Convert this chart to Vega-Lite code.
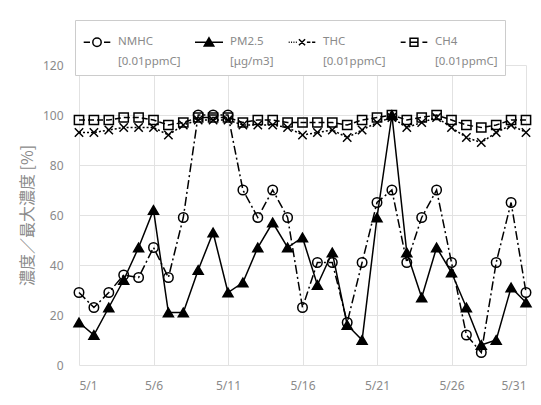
{
  "$schema": "https://vega.github.io/schema/vega-lite/v6.json",
  "width": 447,
  "height": 300,
  "autosize": {"type": "none"},
  "padding": {"left": 79, "top": 65, "right": 15, "bottom": 40},
  "background": "white",
  "config": {
    "font": "Noto Sans",
    "view": {"stroke": null},
    "style": {"guide-label": {"lineHeight": 20}},
    "axis": {
      "gridColor": "#e2e2e2",
      "gridWidth": 1,
      "domain": false,
      "ticks": false,
      "labelColor": "#8a8a8a",
      "labelFont": "Noto Sans",
      "labelFontSize": 12
    },
    "line": {"color": "black", "strokeWidth": 1.5},
    "point": {"stroke": "black", "strokeWidth": 1.5, "size": 90, "opacity": 1}
  },
  "data": {
    "values": [
      {"day": 1, "series": "NMHC", "value": 29}, {"day": 2, "series": "NMHC", "value": 23},
      {"day": 3, "series": "NMHC", "value": 29}, {"day": 4, "series": "NMHC", "value": 36},
      {"day": 5, "series": "NMHC", "value": 35}, {"day": 6, "series": "NMHC", "value": 47},
      {"day": 7, "series": "NMHC", "value": 35}, {"day": 8, "series": "NMHC", "value": 59},
      {"day": 9, "series": "NMHC", "value": 100}, {"day": 10, "series": "NMHC", "value": 100},
      {"day": 11, "series": "NMHC", "value": 100}, {"day": 12, "series": "NMHC", "value": 70},
      {"day": 13, "series": "NMHC", "value": 59}, {"day": 14, "series": "NMHC", "value": 70},
      {"day": 15, "series": "NMHC", "value": 59}, {"day": 16, "series": "NMHC", "value": 23},
      {"day": 17, "series": "NMHC", "value": 41}, {"day": 18, "series": "NMHC", "value": 41},
      {"day": 19, "series": "NMHC", "value": 17}, {"day": 20, "series": "NMHC", "value": 41},
      {"day": 21, "series": "NMHC", "value": 65}, {"day": 22, "series": "NMHC", "value": 70},
      {"day": 23, "series": "NMHC", "value": 41}, {"day": 24, "series": "NMHC", "value": 59},
      {"day": 25, "series": "NMHC", "value": 70}, {"day": 26, "series": "NMHC", "value": 41},
      {"day": 27, "series": "NMHC", "value": 12}, {"day": 28, "series": "NMHC", "value": 5},
      {"day": 29, "series": "NMHC", "value": 41}, {"day": 30, "series": "NMHC", "value": 65},
      {"day": 31, "series": "NMHC", "value": 29},

      {"day": 1, "series": "PM2.5", "value": 17}, {"day": 2, "series": "PM2.5", "value": 12},
      {"day": 3, "series": "PM2.5", "value": 23}, {"day": 4, "series": "PM2.5", "value": 34},
      {"day": 5, "series": "PM2.5", "value": 47}, {"day": 6, "series": "PM2.5", "value": 62},
      {"day": 7, "series": "PM2.5", "value": 21}, {"day": 8, "series": "PM2.5", "value": 21},
      {"day": 9, "series": "PM2.5", "value": 38}, {"day": 10, "series": "PM2.5", "value": 53},
      {"day": 11, "series": "PM2.5", "value": 29}, {"day": 12, "series": "PM2.5", "value": 33},
      {"day": 13, "series": "PM2.5", "value": 47}, {"day": 14, "series": "PM2.5", "value": 57},
      {"day": 15, "series": "PM2.5", "value": 47}, {"day": 16, "series": "PM2.5", "value": 51},
      {"day": 17, "series": "PM2.5", "value": 32}, {"day": 18, "series": "PM2.5", "value": 45},
      {"day": 19, "series": "PM2.5", "value": 16}, {"day": 20, "series": "PM2.5", "value": 10},
      {"day": 21, "series": "PM2.5", "value": 59}, {"day": 22, "series": "PM2.5", "value": 100},
      {"day": 23, "series": "PM2.5", "value": 45}, {"day": 24, "series": "PM2.5", "value": 27},
      {"day": 25, "series": "PM2.5", "value": 47}, {"day": 26, "series": "PM2.5", "value": 37},
      {"day": 27, "series": "PM2.5", "value": 23}, {"day": 28, "series": "PM2.5", "value": 8},
      {"day": 29, "series": "PM2.5", "value": 10}, {"day": 30, "series": "PM2.5", "value": 31},
      {"day": 31, "series": "PM2.5", "value": 25},

      {"day": 1, "series": "THC", "value": 93}, {"day": 2, "series": "THC", "value": 93},
      {"day": 3, "series": "THC", "value": 94}, {"day": 4, "series": "THC", "value": 95},
      {"day": 5, "series": "THC", "value": 95}, {"day": 6, "series": "THC", "value": 95},
      {"day": 7, "series": "THC", "value": 92}, {"day": 8, "series": "THC", "value": 96},
      {"day": 9, "series": "THC", "value": 98}, {"day": 10, "series": "THC", "value": 98},
      {"day": 11, "series": "THC", "value": 98}, {"day": 12, "series": "THC", "value": 96},
      {"day": 13, "series": "THC", "value": 96}, {"day": 14, "series": "THC", "value": 96},
      {"day": 15, "series": "THC", "value": 95}, {"day": 16, "series": "THC", "value": 92},
      {"day": 17, "series": "THC", "value": 93}, {"day": 18, "series": "THC", "value": 94},
      {"day": 19, "series": "THC", "value": 91}, {"day": 20, "series": "THC", "value": 94},
      {"day": 21, "series": "THC", "value": 97}, {"day": 22, "series": "THC", "value": 99},
      {"day": 23, "series": "THC", "value": 95}, {"day": 24, "series": "THC", "value": 97},
      {"day": 25, "series": "THC", "value": 99}, {"day": 26, "series": "THC", "value": 95},
      {"day": 27, "series": "THC", "value": 91}, {"day": 28, "series": "THC", "value": 89},
      {"day": 29, "series": "THC", "value": 93}, {"day": 30, "series": "THC", "value": 96},
      {"day": 31, "series": "THC", "value": 93},

      {"day": 1, "series": "CH4", "value": 98}, {"day": 2, "series": "CH4", "value": 98},
      {"day": 3, "series": "CH4", "value": 98}, {"day": 4, "series": "CH4", "value": 99},
      {"day": 5, "series": "CH4", "value": 99}, {"day": 6, "series": "CH4", "value": 98},
      {"day": 7, "series": "CH4", "value": 96}, {"day": 8, "series": "CH4", "value": 97},
      {"day": 9, "series": "CH4", "value": 99}, {"day": 10, "series": "CH4", "value": 99},
      {"day": 11, "series": "CH4", "value": 99}, {"day": 12, "series": "CH4", "value": 97},
      {"day": 13, "series": "CH4", "value": 98}, {"day": 14, "series": "CH4", "value": 98},
      {"day": 15, "series": "CH4", "value": 97}, {"day": 16, "series": "CH4", "value": 97},
      {"day": 17, "series": "CH4", "value": 97}, {"day": 18, "series": "CH4", "value": 97},
      {"day": 19, "series": "CH4", "value": 96}, {"day": 20, "series": "CH4", "value": 98},
      {"day": 21, "series": "CH4", "value": 99}, {"day": 22, "series": "CH4", "value": 100},
      {"day": 23, "series": "CH4", "value": 98}, {"day": 24, "series": "CH4", "value": 99},
      {"day": 25, "series": "CH4", "value": 100}, {"day": 26, "series": "CH4", "value": 98},
      {"day": 27, "series": "CH4", "value": 96}, {"day": 28, "series": "CH4", "value": 95},
      {"day": 29, "series": "CH4", "value": 96}, {"day": 30, "series": "CH4", "value": 98},
      {"day": 31, "series": "CH4", "value": 98}
    ]
  },
  "encoding": {
    "x": {
      "field": "day",
      "type": "quantitative",
      "scale": {"domain": [1, 31], "nice": false, "zero": false},
      "axis": {
        "title": null,
        "values": [1, 6, 11, 16, 21, 26, 31],
        "labelExpr": "'5/' + datum.value",
        "labelPadding": 15,
        "grid": true
      }
    },
    "y": {
      "field": "value",
      "type": "quantitative",
      "scale": {"domain": [0, 120], "nice": false},
      "axis": {
        "values": [0, 20, 40, 60, 80, 100, 120],
        "labelPadding": 16,
        "title": "濃度／最大濃度 [%]",
        "titleFont": "Noto Sans CJK JP",
        "titleFontSize": 16,
        "titleFontWeight": "normal",
        "titleColor": "#8a8a8a",
        "titlePadding": 7
      }
    }
  },
  "layer": [
    {
      "transform": [{"filter": "datum.series == 'NMHC'"}],
      "mark": {"type": "line", "strokeDash": [9, 3, 2, 3]}
    },
    {
      "transform": [{"filter": "datum.series == 'NMHC'"}],
      "mark": {"type": "point", "shape": "circle", "filled": false}
    },
    {
      "transform": [{"filter": "datum.series == 'PM2.5'"}],
      "mark": {"type": "line"},
      "encoding": {
        "opacity": {
          "field": "series",
          "scale": {"domain": ["NMHC", "PM2.5", "THC", "CH4"], "range": [1, 1, 1, 1]},
          "legend": {
            "orient": "none",
            "legendX": -4,
            "legendY": -45,
            "direction": "horizontal",
            "columns": 4,
            "title": null,
            "symbolSize": 784,
            "symbolStrokeWidth": 1.5,
            "symbolStrokeColor": "black",
            "symbolFillColor": {"expr": "datum.value == 'PM2.5' ? 'black' : 'transparent'"},
            "symbolType": {"expr": "datum.value == 'NMHC' ? 'M-0.95,0H-0.5M0.5,0H0.95M0.3,0A0.3,0.3 0 1 1 -0.3,0A0.3,0.3 0 1 1 0.3,0Z' : datum.value == 'PM2.5' ? 'M-1,0H1M0,-0.32L0.34,0.26L-0.34,0.26Z' : datum.value == 'THC' ? 'M-0.95,0H-0.88M-0.78,0H-0.71M-0.61,0H-0.54M-0.44,0H-0.37M-0.22,-0.22L0.22,0.22M-0.22,0.22L0.22,-0.22M0.35,0H0.6M0.72,0H0.95' : 'M-0.95,0H-0.6M-0.28,0H0.28M0.6,0H0.95M-0.28,-0.28H0.28V0.28H-0.28Z'"},
            "labelFont": "Noto Sans",
            "labelFontSize": 11.5,
            "labelColor": "#8a8a8a",
            "labelOffset": 6,
            "labelLimit": 0,
            "columnPadding": 11,
            "padding": 7,
            "strokeColor": "#cccccc",
            "fillColor": "white",
            "labelExpr": "datum.label == 'PM2.5' ? [datum.label, '[μg/m3]'] : [datum.label, '[0.01ppmC]']"
          }
        }
      }
    },
    {
      "transform": [{"filter": "datum.series == 'PM2.5'"}],
      "mark": {"type": "point", "shape": "triangle-up", "filled": true, "color": "black", "size": 100}
    },
    {
      "transform": [{"filter": "datum.series == 'THC'"}],
      "mark": {"type": "line", "strokeDash": [2, 2]}
    },
    {
      "transform": [{"filter": "datum.series == 'THC'"}],
      "mark": {"type": "point", "shape": "M-1,-1L1,1M-1,1L1,-1", "filled": false, "size": 70}
    },
    {
      "transform": [{"filter": "datum.series == 'CH4'"}],
      "mark": {"type": "line", "strokeDash": [6, 3]}
    },
    {
      "transform": [{"filter": "datum.series == 'CH4'"}],
      "mark": {"type": "point", "shape": "square", "filled": false, "size": 85}
    }
  ]
}
